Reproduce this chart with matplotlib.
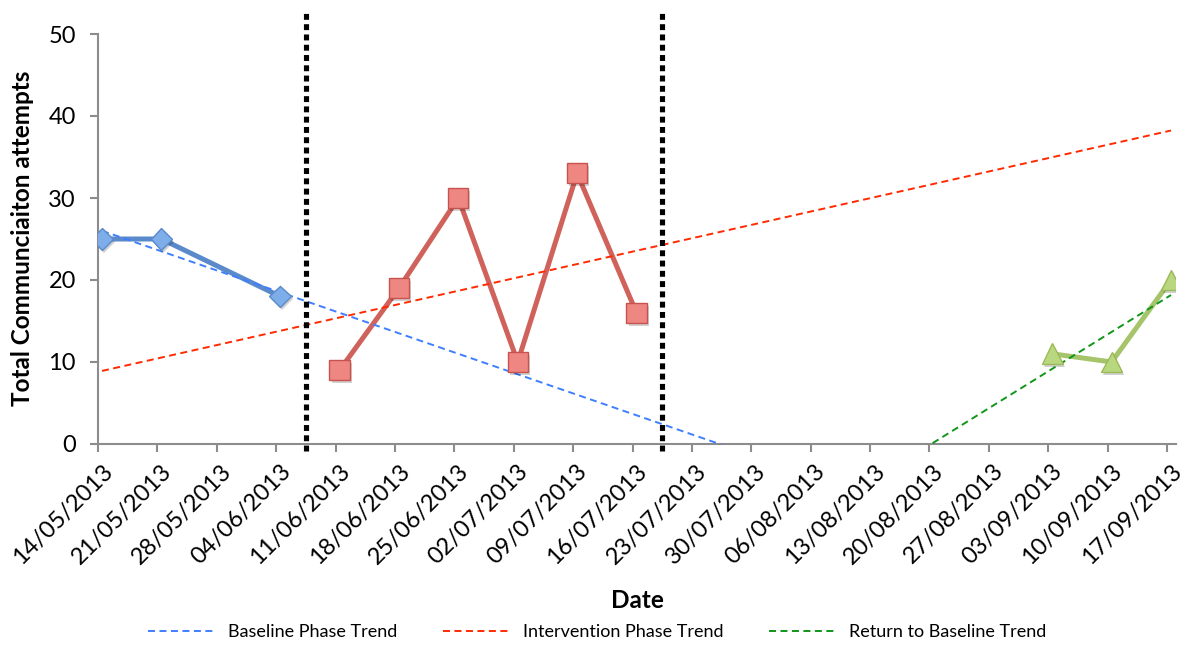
import matplotlib
matplotlib.use("Agg")
import matplotlib.pyplot as plt
import matplotlib.dates as mdates
import matplotlib.transforms as mtransforms
import matplotlib.patheffects as pe
import numpy as np
from datetime import datetime

plt.rcParams['font.family'] = ['Lato', 'DejaVu Sans']

# ---- data ----
baseline_dates = ["14/05/2013", "21/05/2013", "04/06/2013"]
baseline_vals = [25, 25, 18]
intervention_dates = ["11/06/2013", "18/06/2013", "25/06/2013", "02/07/2013", "09/07/2013", "16/07/2013"]
intervention_vals = [9, 19, 30, 10, 33, 16]
return_dates = ["03/09/2013", "10/09/2013", "17/09/2013"]
return_vals = [11, 10, 20]
phase_change_dates = ["07/06/2013", "19/07/2013"]
axis_start = "14/05/2013"
axis_end = "17/09/2013"
legend_labels = ["Baseline Phase Trend", "Intervention Phase Trend", "Return to Baseline Trend"]

def d(s):
    return datetime.strptime(s, "%d/%m/%Y")

def num(lst):
    return np.array([mdates.date2num(d(s)) for s in lst])

W, H = 1193, 648
fig = plt.figure(figsize=(W/100, H/100), dpi=100)
ax = fig.add_axes([98/W, 1-444/H, (1176-98)/W, (444-34)/H])

x0 = mdates.date2num(d(axis_start))
x1 = mdates.date2num(d(axis_end))
ax.set_xlim(x0, x1 + 1.06)
ax.set_ylim(0, 50)

bx, ix, rx = num(baseline_dates), num(intervention_dates), num(return_dates)

# the spreadsheet draws series slightly right of the tick marks
shift = mtransforms.ScaledTranslation(4/100, 0, fig.dpi_scale_trans)
dtrans = ax.transData + shift

shadow = [pe.SimplePatchShadow(offset=(1.5, -2), shadow_rgbFace='#000000', alpha=0.18), pe.Normal()]

# data lines
ax.plot(bx, baseline_vals, color="#5A8ACB", lw=3.6, zorder=2, transform=dtrans)
ax.plot(ix, intervention_vals, color="#D0625C", lw=3.6, zorder=2, transform=dtrans)
ax.plot(rx, return_vals, color="#A6C46A", lw=3.6, zorder=2, transform=dtrans)

# trend lines (linear fits, as in the original spreadsheet)
trend_cols = ["#3F7FFF", "#FF2A00", "#109618"]
handles = []
for xv, yv, c in zip([bx, ix, rx], [baseline_vals, intervention_vals, return_vals], trend_cols):
    p = np.polyfit(xv - x0, yv, 1)
    xs = np.array([x0, x1])
    h, = ax.plot(xs, np.polyval(p, xs - x0), color=c, lw=1.4, ls=(0, (3.6, 2.3)), zorder=3,
                 transform=dtrans)
    handles.append(h)

# markers
ax.plot(bx, baseline_vals, ls='none', marker='D', ms=11, mfc="#7DAEEA", mec="#5A8ACB", mew=1.0,
        zorder=4, transform=dtrans, path_effects=shadow)
ax.plot(ix, intervention_vals, ls='none', marker='s', ms=14.5, mfc="#EE8782", mec="#C8534E", mew=1.0,
        zorder=4, transform=dtrans, path_effects=shadow)
ax.plot(rx, return_vals, ls='none', marker='^', ms=15, mfc="#B9D77E", mec="#9BBB59", mew=1.0,
        zorder=4, transform=dtrans, path_effects=shadow)

# phase change lines
trans = mtransforms.blended_transform_factory(ax.transData, ax.transAxes) + shift
for s in phase_change_dates:
    xv = mdates.date2num(d(s))
    ax.plot([xv, xv], [-0.016, 1.052], transform=trans, color='black', lw=3.7,
            ls=(0, (1.15, 0.85)), clip_on=False, zorder=5)

# axes styling
for sp in ['top', 'right']:
    ax.spines[sp].set_visible(False)
for sp in ['left', 'bottom']:
    ax.spines[sp].set_color('#8C8C8C')
    ax.spines[sp].set_linewidth(1.5)

ax.set_yticks(range(0, 51, 10))
ticks = [x0 + 7 * k for k in range(19)]
ax.set_xticks(ticks)
ax.xaxis.set_major_formatter(mdates.DateFormatter('%d/%m/%Y'))
ax.tick_params(axis='both', direction='out', length=6, width=1.5, color='#8C8C8C', labelsize=17)
ax.tick_params(axis='x', labelsize=17, pad=11)
ax.tick_params(axis='y', pad=10)
offset = mtransforms.ScaledTranslation(11/100, 0, fig.dpi_scale_trans)
for lab in ax.get_xticklabels():
    lab.set_rotation(45)
    lab.set_ha('right')
    lab.set_va('center')
    lab.set_rotation_mode('anchor')
    lab.set_transform(lab.get_transform() + offset)

fig.text(23/W, 1-238/H, "Total Communciaiton attempts", fontsize=17.5, fontweight='bold',
         rotation=90, ha='center', va='center')
fig.text(637/W, 1-601/H, "Date", fontsize=17.5, fontweight='bold', ha='center', va='center')

fig.legend(handles, legend_labels, loc='center', bbox_to_anchor=(597/W, 1-632/H),
           ncol=3, frameon=False, fontsize=13, handlelength=3.6, handletextpad=0.85,
           columnspacing=2.5)

fig.savefig("out.png", dpi=100)
